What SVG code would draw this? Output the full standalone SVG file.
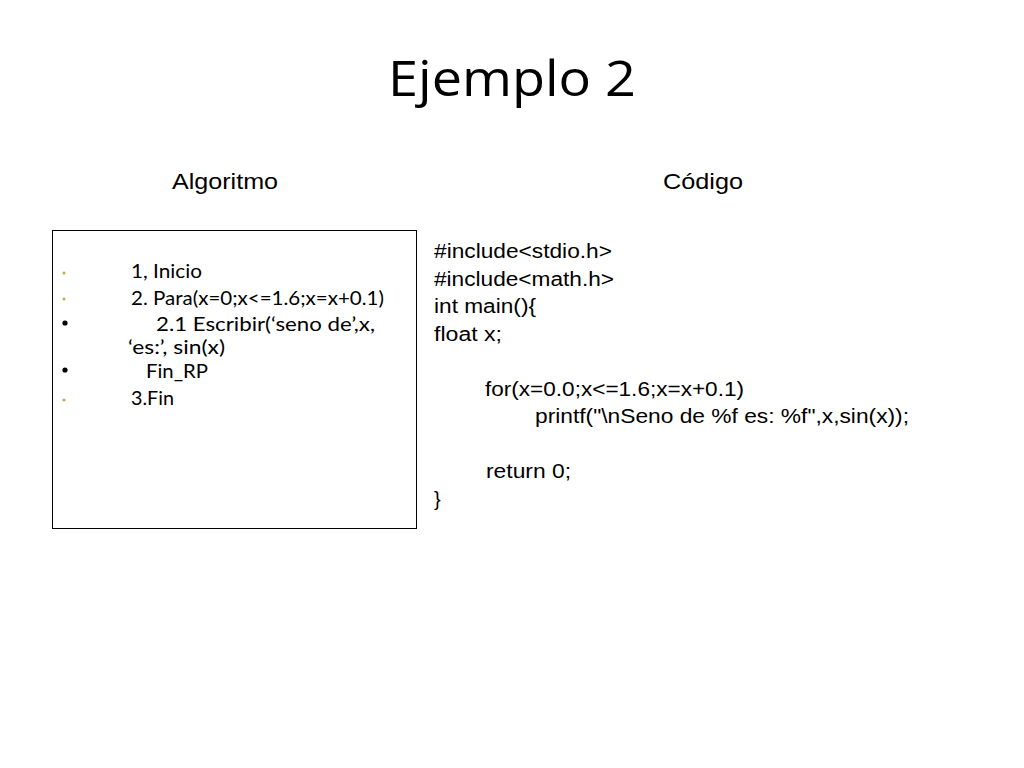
<svg xmlns="http://www.w3.org/2000/svg" width="1024" height="768" viewBox="0 0 1024 768">
<style>
.title{font-family:"Open Sans","Noto Sans",sans-serif;font-size:50px;fill:#000}
.head{font-family:"Liberation Sans",Arial,sans-serif;font-size:22px;fill:#000}
.alg{font-family:Lato,"Open Sans",sans-serif;font-size:19px;fill:#000}
.code{font-family:"Liberation Sans",Arial,sans-serif;font-size:20px;fill:#000}
.gold{fill:#c8a844}
</style>
<rect width="1024" height="768" fill="#fff"/>
<text class="title" x="388" y="96" textLength="248" lengthAdjust="spacingAndGlyphs">Ejemplo 2</text>
<text class="head" x="172" y="189" textLength="106" lengthAdjust="spacingAndGlyphs">Algoritmo</text>
<text class="head" x="663" y="189" textLength="80" lengthAdjust="spacingAndGlyphs">Código</text>
<g id="algoritmo">
<rect x="52.5" y="230.5" width="364" height="298" fill="none" stroke="#000" stroke-width="1"/>
<circle class="gold" cx="64" cy="273" r="1.5"/>
<circle class="gold" cx="64" cy="299" r="1.5"/>
<circle cx="65" cy="323" r="2.6"/>
<circle cx="65" cy="370" r="2.6"/>
<circle class="gold" cx="64" cy="400" r="1.5"/>
<text class="alg" x="131" y="278" textLength="71" lengthAdjust="spacingAndGlyphs">1, Inicio</text>
<text class="alg" x="131" y="305" textLength="253" lengthAdjust="spacingAndGlyphs">2. Para(x=0;x&lt;=1.6;x=x+0.1)</text>
<text class="alg" x="156" y="331" textLength="219" lengthAdjust="spacingAndGlyphs">2.1  Escribir(‘seno de’,x,</text>
<text class="alg" x="128" y="354" textLength="97" lengthAdjust="spacingAndGlyphs">‘es:’, sin(x)</text>
<text class="alg" x="146" y="378" textLength="62" lengthAdjust="spacingAndGlyphs">Fin_RP</text>
<text class="alg" x="131" y="405" textLength="43" lengthAdjust="spacingAndGlyphs">3.Fin</text>
</g>
<g id="codigo">
<text class="code" x="434" y="258" textLength="178" lengthAdjust="spacingAndGlyphs">#include&lt;stdio.h&gt;</text>
<text class="code" x="434" y="285.5" textLength="180" lengthAdjust="spacingAndGlyphs">#include&lt;math.h&gt;</text>
<text class="code" x="434" y="313" textLength="102" lengthAdjust="spacingAndGlyphs">int main(){</text>
<text class="code" x="434" y="340.5" textLength="68" lengthAdjust="spacingAndGlyphs">float x;</text>
<text class="code" x="485" y="395.5" textLength="259" lengthAdjust="spacingAndGlyphs">for(x=0.0;x&lt;=1.6;x=x+0.1)</text>
<text class="code" x="535" y="423" textLength="374" lengthAdjust="spacingAndGlyphs">printf("\nSeno de %f es: %f",x,sin(x));</text>
<text class="code" x="486" y="478" textLength="85" lengthAdjust="spacingAndGlyphs">return 0;</text>
<text class="code" x="434" y="505.5">}</text>
</g>
</svg>
